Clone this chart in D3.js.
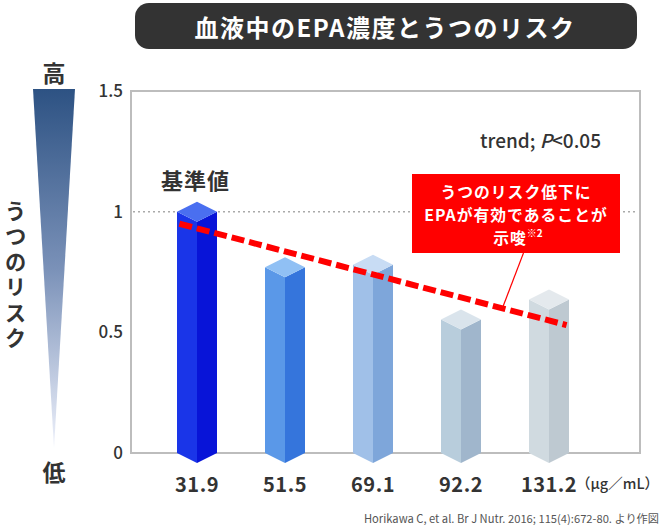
<!DOCTYPE html>
<html><head><meta charset="utf-8">
<script src="https://cdn.jsdelivr.net/npm/d3@7"></script>
<style>
html,body{margin:0;padding:0;background:#fff;}
svg{display:block;font-family:"Noto Sans CJK JP","Noto Sans",sans-serif;}
</style></head>
<body>
<svg id="c" width="660" height="525"></svg>
<script>
// ---- data ----
const categories = ["31.9", "51.5", "69.1", "92.2", "131.2"];
const riskValues = [1.0, 0.77, 0.78, 0.553, 0.636];
const yTicks = [0, 0.5, 1, 1.5];
const trendIndex = [-0.2, 4.2];
const trendValues = [0.95, 0.53];
const leftColors = ["#1a35e8", "#5a98e8", "#a0c0e8", "#b8cddc", "#d0dae0"];
const rightColors = ["#0814d8", "#3575dc", "#7ea6da", "#a0b6cc", "#bec9d1"];
const topColors = ["#4a6ff0", "#90c0f4", "#c8dcf4", "#dae4ec", "#e4e9ed"];

const svg = d3.select("#c");
const plot = {l: 131, r: 640, t: 91, b: 453};

const y = d3.scaleLinear().domain([0, 1.5]).range([plot.b, plot.t]);
const x = d3.scalePoint().domain(categories).range([197, 549]);
const xi = d3.scaleLinear().domain([0, categories.length - 1]).range([197, 549]);

// title
svg.append("rect").attr("x", 135).attr("y", 3).attr("width", 502).attr("height", 46)
  .attr("rx", 14).attr("fill", "#333333");
svg.append("text").attr("x", 385).attr("y", 26).attr("text-anchor", "middle")
  .attr("dominant-baseline", "central").attr("fill", "#fff")
  .attr("font-size", 24).attr("font-weight", 700).attr("letter-spacing", 1.5)
  .text("血液中のEPA濃度とうつのリスク");

// left gradient arrow
const defs = svg.append("defs");
const grad = defs.append("linearGradient").attr("id", "g1")
  .attr("x1", 0).attr("y1", 0).attr("x2", 0).attr("y2", 1);
grad.append("stop").attr("offset", "0%").attr("stop-color", "#2d5283");
grad.append("stop").attr("offset", "50%").attr("stop-color", "#7a91b8");
grad.append("stop").attr("offset", "100%").attr("stop-color", "#eef1fb");
svg.append("path").attr("d", "M33,89 L75,89 L54,448 Z").attr("fill", "url(#g1)");
svg.append("text").attr("x", 54).attr("y", 72).attr("text-anchor", "middle")
  .attr("dominant-baseline", "central").attr("font-size", 23).attr("font-weight", 700)
  .attr("fill", "#333").text("高");
svg.append("text").attr("x", 54).attr("y", 471).attr("text-anchor", "middle")
  .attr("dominant-baseline", "central").attr("font-size", 23).attr("font-weight", 700)
  .attr("fill", "#333").text("低");
svg.append("text").attr("x", 15.5).attr("y", 200)
  .style("writing-mode", "vertical-rl").attr("letter-spacing", 4)
  .attr("font-size", 21.5).attr("font-weight", 700).attr("fill", "#333")
  .text("うつのリスク");

// frame
svg.append("rect").attr("x", plot.l).attr("y", plot.t)
  .attr("width", plot.r - plot.l).attr("height", plot.b - plot.t)
  .attr("fill", "none").attr("stroke", "#bdbdbd").attr("stroke-width", 2);

// reference line at 1
svg.append("line").attr("x1", plot.l + 2).attr("x2", plot.r - 2)
  .attr("y1", y(1)).attr("y2", y(1))
  .attr("stroke", "#aaaaaa").attr("stroke-width", 1.5).attr("stroke-dasharray", "2,3");

// y axis
const yAxis = d3.axisLeft(y).tickValues(yTicks).tickFormat(d => String(d)).tickSize(0).tickPadding(8);
const ga = svg.append("g").attr("transform", `translate(${plot.l},0)`).call(yAxis);
ga.select(".domain").remove();
ga.selectAll("text").attr("font-size", 17).attr("font-weight", 500).attr("fill", "#333")
  .attr("font-family", "'Noto Sans CJK JP', sans-serif");

// bars (3D prisms)
const hw = 20, hd = 10;
const bars = svg.append("g").selectAll("g").data(categories).join("g");
bars.append("path").attr("fill", (d, i) => leftColors[i])
  .attr("d", (d, i) => {
    const cx = x(d), yt = y(riskValues[i]), yb = y(0);
    return `M${cx - hw},${yt} L${cx},${yt + hd} L${cx},${yb + hd} L${cx - hw},${yb} Z`;
  });
bars.append("path").attr("fill", (d, i) => rightColors[i])
  .attr("d", (d, i) => {
    const cx = x(d), yt = y(riskValues[i]), yb = y(0);
    return `M${cx},${yt + hd} L${cx + hw},${yt} L${cx + hw},${yb} L${cx},${yb + hd} Z`;
  });
bars.append("path").attr("fill", (d, i) => topColors[i])
  .attr("d", (d, i) => {
    const cx = x(d), yt = y(riskValues[i]);
    return `M${cx - hw},${yt} L${cx},${yt - hd} L${cx + hw},${yt} L${cx},${yt + hd} Z`;
  });

// x labels
svg.append("g").selectAll("text").data(categories).join("text")
  .attr("x", d => x(d)).attr("y", 483).attr("text-anchor", "middle")
  .attr("dominant-baseline", "central").attr("font-size", 20).attr("font-weight", 700)
  .attr("fill", "#333").attr("letter-spacing", 0.5).text(d => d);
svg.append("text").attr("x", 659).attr("y", 482).attr("text-anchor", "end")
  .attr("dominant-baseline", "central").attr("font-size", 14.5).attr("font-weight", 500)
  .attr("fill", "#333").text("（μg／mL）");

// trend line
const trendPts = trendIndex.map((t, i) => [xi(t), y(trendValues[i])]);
svg.append("path").attr("d", d3.line()(trendPts))
  .attr("stroke", "#ff0000").attr("stroke-width", 6).attr("fill", "none")
  .attr("stroke-dasharray", "13,5");

// callout
const box = {x: 412, y: 174, w: 208, h: 79};
const tAt = t => {
  const f = (t - trendIndex[0]) / (trendIndex[1] - trendIndex[0]);
  return y(trendValues[0] + f * (trendValues[1] - trendValues[0]));
};
svg.append("line").attr("x1", xi(3.71)).attr("y1", box.y + box.h)
  .attr("x2", xi(3.47)).attr("y2", tAt(3.47))
  .attr("stroke", "#ff0000").attr("stroke-width", 1.2);
svg.append("rect").attr("x", box.x).attr("y", box.y).attr("width", box.w).attr("height", box.h)
  .attr("fill", "#ff0000");
const cx0 = box.x + box.w / 2;
const bt = svg.append("text").attr("fill", "#fff").attr("font-weight", 700).attr("font-size", 15.8)
  .attr("letter-spacing", 1).attr("text-anchor", "middle").attr("dominant-baseline", "central");
bt.append("tspan").attr("x", cx0).attr("y", 190.5).text("うつのリスク低下に");
bt.append("tspan").attr("x", cx0).attr("y", 213.5).text("EPAが有効であることが");
bt.append("tspan").attr("x", cx0 + 2).attr("y", 236.5).text("示唆");
bt.append("tspan").attr("font-size", 10).attr("letter-spacing", 0).attr("dy", -5).text("※2");

// labels
svg.append("text").attr("x", 161).attr("y", 179).attr("dominant-baseline", "central")
  .attr("font-size", 22).attr("font-weight", 700).attr("fill", "#333").attr("letter-spacing", 1)
  .text("基準値");
const tr = svg.append("text").attr("x", 601).attr("y", 139).attr("text-anchor", "end")
  .attr("dominant-baseline", "central").attr("font-size", 19).attr("font-weight", 500).attr("fill", "#333");
tr.append("tspan").text("trend; ");
tr.append("tspan").attr("font-style", "italic").text("P");
tr.append("tspan").text("<0.05");

// source
svg.append("text").attr("x", 659).attr("y", 518).attr("text-anchor", "end")
  .attr("dominant-baseline", "central").attr("font-size", 11.2).attr("fill", "#555")
  .text("Horikawa C, et al. Br J Nutr. 2016; 115(4):672-80. より作図");
</script>
</body></html>
